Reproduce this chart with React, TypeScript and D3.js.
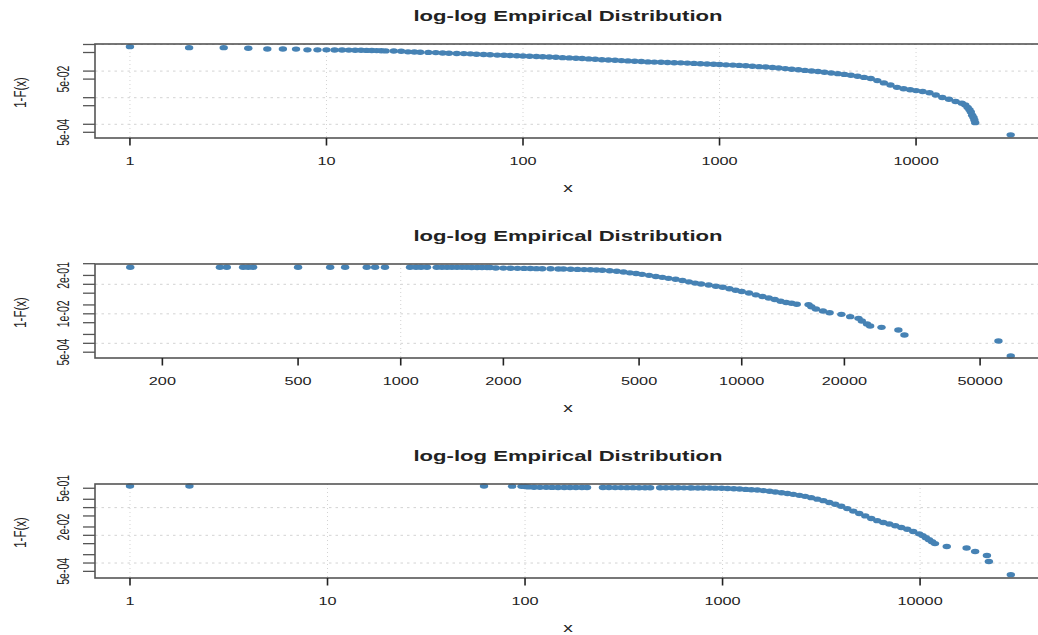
import * as d3 from "d3";

// panel 1: x values and 1-F(x)
const p1X = [1, 2, 3, 4, 5, 6, 7, 8, 9, 10, 11, 12, 13, 14, 15, 16, 17, 18, 19, 20,
  22, 24, 26, 28, 30, 33, 36, 39, 42, 46, 50, 54, 58, 63, 68, 74, 80, 86, 93, 100,
  108, 117, 126, 136, 147, 159, 172, 186, 200, 216, 233, 252, 272, 294, 317, 342, 370, 400, 432, 466,
  504, 544, 588, 635, 686, 741, 800, 864, 933, 1000,
  1080, 1170, 1260, 1360, 1470, 1590, 1720, 1860, 2000, 2160, 2330, 2520, 2720, 2940, 3170, 3420, 3700, 4000, 4320, 4660,
  5040, 5440, 5880, 6350, 6860, 7410, 8000, 8640, 9330, 10000,
  10800, 11700, 12600, 13600, 14700, 15900, 17100, 17800, 18300, 18700, 19000, 19300, 19600, 19800, 20000, 30300];
const p1Y = [0.83, 0.76, 0.76, 0.72, 0.68, 0.675, 0.67, 0.63, 0.63, 0.63, 0.625, 0.62, 0.615, 0.61, 0.605, 0.6, 0.595, 0.59, 0.58, 0.575,
  0.57, 0.56, 0.53, 0.52, 0.51, 0.505, 0.495, 0.48, 0.47, 0.46, 0.455, 0.445, 0.43, 0.42, 0.41, 0.4, 0.395, 0.385, 0.376, 0.37,
  0.363, 0.354, 0.345, 0.339, 0.33, 0.32, 0.314, 0.305, 0.298, 0.288, 0.278, 0.268, 0.262, 0.255, 0.248, 0.242, 0.236, 0.228, 0.222, 0.218,
  0.214, 0.211, 0.207, 0.204, 0.2, 0.195, 0.19, 0.185, 0.182, 0.177,
  0.172, 0.168, 0.164, 0.158, 0.153, 0.147, 0.143, 0.137, 0.131, 0.124, 0.117, 0.112, 0.106, 0.101, 0.096, 0.09, 0.085, 0.08, 0.075, 0.07,
  0.064, 0.058, 0.053, 0.044, 0.036, 0.03, 0.0245, 0.0218, 0.02, 0.0185,
  0.017, 0.0153, 0.0127, 0.0102, 0.0087, 0.0072, 0.0062, 0.0053, 0.0043, 0.0035, 0.0029, 0.0022, 0.0018, 0.00145, 0.00115, 0.0004];

// panel 2
const p2X = [161, 295, 309, 345, 357, 369, 500, 621, 687, 795, 841, 899,
  1065, 1109, 1147, 1194, 1275, 1321, 1367, 1413, 1462, 1513, 1562, 1615, 1675, 1731, 1791, 1827,
  1900, 2000, 2100, 2200, 2300, 2400, 2500, 2600, 2750, 2900, 3000, 3150, 3300, 3450, 3600, 3750, 3900, 4100, 4300, 4500,
  4700, 4900, 5100, 5350, 5600, 5850, 6100, 6400, 6700, 7000, 7300, 7600, 8000, 8400, 8800, 9200, 9600, 10000, 10500, 11000,
  11500, 12000, 12500, 13000, 13500, 14000, 14500,
  15700, 16000, 16500, 17300, 18100, 19600, 20800, 22000, 22500, 23300, 23800, 25700, 28800, 30000, 56600, 61500];
const p2Y = [0.38, 0.38, 0.38, 0.38, 0.38, 0.38, 0.38, 0.38, 0.38, 0.38, 0.38, 0.38,
  0.378, 0.378, 0.378, 0.378, 0.376, 0.376, 0.376, 0.376, 0.376, 0.376, 0.376, 0.37, 0.37, 0.37, 0.37, 0.37,
  0.357, 0.354, 0.351, 0.348, 0.346, 0.343, 0.34, 0.338, 0.335, 0.332, 0.33, 0.325, 0.32, 0.315, 0.31, 0.305, 0.298, 0.289, 0.276, 0.261,
  0.245, 0.232, 0.218, 0.201, 0.183, 0.172, 0.159, 0.148, 0.134, 0.121, 0.11, 0.102, 0.0945, 0.0862, 0.0791, 0.0704, 0.0632, 0.057, 0.0506, 0.044,
  0.0386, 0.0344, 0.0306, 0.0266, 0.0242, 0.0227, 0.021,
  0.0205, 0.0174, 0.0145, 0.01245, 0.0109, 0.0096, 0.008, 0.00703, 0.0057, 0.0045, 0.00386, 0.00348, 0.00282, 0.00191, 0.0012, 0.00037];

// panel 3
const p3X = [1, 2, 62, 86, 96, 100, 104, 111, 119, 128, 137, 147, 158, 169, 181, 194, 206,
  248, 266, 286, 306, 328, 352, 378, 405, 430, 483, 517, 555, 595, 638, 684,
  700, 750, 800, 860, 920, 990, 1060, 1140, 1220, 1310, 1400, 1500, 1610, 1730, 1850, 1990, 2130, 2280, 2450, 2620,
  2810, 3020, 3240, 3470, 3720, 3990, 4280, 4590, 4920, 5280, 5660, 6070, 6510, 6980, 7490, 8030, 8610, 9230, 9900, 10300,
  10700, 11100, 11500, 11900,
  13650, 17200, 19000, 21800, 22300, 28800];
const p3Y = [0.6, 0.6, 0.6, 0.595, 0.585, 0.575, 0.56, 0.545, 0.54, 0.538, 0.536, 0.535, 0.534, 0.533, 0.532, 0.531, 0.53,
  0.53, 0.529, 0.528, 0.527, 0.526, 0.525, 0.524, 0.523, 0.522, 0.521, 0.52, 0.52, 0.519, 0.518, 0.517,
  0.515, 0.512, 0.51, 0.508, 0.505, 0.499, 0.491, 0.479, 0.467, 0.455, 0.444, 0.433, 0.412, 0.389, 0.367, 0.344, 0.324, 0.301, 0.277, 0.255,
  0.229, 0.202, 0.1786, 0.1538, 0.1315, 0.1114, 0.0921, 0.0748, 0.0614, 0.0503, 0.0406, 0.0338, 0.0291, 0.0255, 0.0221, 0.0192, 0.0166, 0.0138, 0.0113, 0.00975,
  0.00813, 0.00689, 0.00584, 0.00503,
  0.00395, 0.00347, 0.00261, 0.00188, 0.00114, 0.00038];

// axes
const decadeTicks = [1, 10, 100, 1000, 10000];
const p2XTicks = [200, 500, 1000, 2000, 5000, 10000, 20000, 50000];
const p2XGrid = [1000, 10000];
const p1YTicks = [1, 0.5, 0.1, 0.05, 0.01, 0.005, 0.001, 0.0005];
const p25YTicks = [0.5, 0.2, 0.1, 0.05, 0.02, 0.01, 0.005, 0.002, 0.001, 0.0005];
const p1YLabels: [number, string][] = [[0.05, "5e-02"], [0.0005, "5e-04"]];
const p2YLabels: [number, string][] = [[0.2, "2e-01"], [0.01, "1e-02"], [0.0005, "5e-04"]];
const p3YLabels: [number, string][] = [[0.5, "5e-01"], [0.02, "2e-02"], [0.0005, "5e-04"]];

const SX = 1.6;
const FONT = "'Liberation Sans', Arial, Helvetica, sans-serif";
const BLUE = "#4682b4";
const INK = "#222";

function Panel({ top, xs, ys, xDomain, yDomain, xTicks, xGrid, yTicks, yLabels, yGrid }: any) {
  const left = 95, right = 1045, h = 94, bottom = top + h;
  const x = d3.scaleLog().domain(xDomain).range([left, right]);
  const y = d3.scaleLog().domain(yDomain).range([top, bottom]);
  const pts = d3.zip(xs, ys) as [number, number][];

  return (
    <g fontFamily={FONT} fill={INK}>
      <text transform={`translate(568,${top - 23.3}) scale(${SX},1)`} textAnchor="middle"
        fontWeight="bold" fontSize={13.8}>log-log Empirical Distribution</text>

      {xGrid.map((v: number) => (
        <line key={"gx" + v} x1={x(v)} x2={x(v)} y1={top} y2={bottom}
          stroke="#d3d3d3" strokeDasharray="1 3" />
      ))}
      {yGrid.map((v: number) => (
        <line key={"gy" + v} x1={left} x2={right} y1={y(v)} y2={y(v)}
          stroke="#d3d3d3" strokeDasharray="2.5 4" />
      ))}

      {pts.map(([a, b], i) => (
        <ellipse key={i} cx={x(a)} cy={y(b)} rx={4.2} ry={2.7} fill={BLUE} />
      ))}

      <rect x={left} y={top} width={right - left} height={h} fill="none" stroke="#555" strokeWidth={1.6} />

      {yTicks.map((v: number) => (
        <line key={"ty" + v} x1={left - 12} x2={left} y1={y(v)} y2={y(v)} stroke="#555" strokeWidth={1.3} />
      ))}
      {yLabels.map(([v, l]: [number, string]) => (
        <text key={l} transform={`translate(63,${y(v)}) scale(${SX},1) rotate(-90)`}
          textAnchor="middle" dy="0.35em" fontSize={10.5}>{l}</text>
      ))}

      {xTicks.map((v: number) => (
        <line key={"tx" + v} x1={x(v)} x2={x(v)} y1={bottom} y2={bottom + 7.5} stroke={INK} strokeWidth={1.6} />
      ))}
      {xTicks.map((v: number) => (
        <text key={"lx" + v} transform={`translate(${x(v)},${bottom + 27}) scale(1.55,1)`}
          textAnchor="middle" fontSize={10.5}>{String(v)}</text>
      ))}

      <text transform={`translate(568,${bottom + 54.3}) scale(${SX},1)`} textAnchor="middle" fontSize={12}>x</text>
      <text transform={`translate(20.5,${top + 48.5}) scale(1.4,1) rotate(-90)`}
        textAnchor="middle" dy="0.35em" fontSize={11.5}>1-F(x)</text>
    </g>
  );
}

export default function App() {
  return (
    <svg width={1038} height={635} style={{ position: "absolute", left: 0, top: 0, background: "#fff" }}>
      <rect width={1038} height={635} fill="#fff" />
      <Panel top={44} xs={p1X} ys={p1Y} xDomain={[0.664, 45300]} yDomain={[1.044, 3.05e-4]}
        xTicks={decadeTicks} xGrid={decadeTicks} yTicks={p1YTicks} yLabels={p1YLabels}
        yGrid={[1, 0.1, 0.01, 0.001]} />
      <Panel top={264} xs={p2X} ys={p2Y} xDomain={[126.9, 77500]} yDomain={[0.488, 3.18e-4]}
        xTicks={p2XTicks} xGrid={p2XGrid} yTicks={p25YTicks} yLabels={p2YLabels}
        yGrid={[0.1, 0.01, 0.001]} />
      <Panel top={484} xs={p3X} ys={p3Y} xDomain={[0.665, 42900]} yDomain={[0.712, 2.88e-4]}
        xTicks={decadeTicks} xGrid={decadeTicks} yTicks={p25YTicks} yLabels={p3YLabels}
        yGrid={[0.1, 0.01, 0.001]} />
    </svg>
  );
}
